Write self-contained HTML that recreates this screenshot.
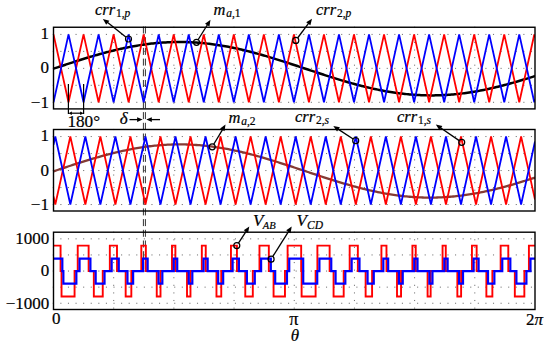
<!DOCTYPE html>
<html><head><meta charset="utf-8"><style>
html,body{margin:0;padding:0;background:#fff;}
body{width:550px;height:348px;overflow:hidden;font-family:"Liberation Serif",serif;}
svg{display:block;}
text{stroke:#000;stroke-width:0.2px;}
</style></head><body>
<svg width="550" height="348" viewBox="0 0 550 348">
<rect width="550" height="348" fill="#fff"/>
<g stroke="#707070" stroke-width="1" stroke-dasharray="1.1 6.49" fill="none"><line x1="52.75" y1="34.4" x2="535" y2="34.4"/><line x1="52.75" y1="51.37" x2="535" y2="51.37"/><line x1="52.75" y1="68.35" x2="535" y2="68.35"/><line x1="52.75" y1="85.32" x2="535" y2="85.32"/><line x1="52.75" y1="102.3" x2="535" y2="102.3"/><line x1="113.69" y1="26.7" x2="113.69" y2="108.9"/><line x1="173.88" y1="26.7" x2="173.88" y2="108.9"/><line x1="234.06" y1="26.7" x2="234.06" y2="108.9"/><line x1="294.25" y1="26.7" x2="294.25" y2="108.9"/><line x1="354.44" y1="26.7" x2="354.44" y2="108.9"/><line x1="414.62" y1="26.7" x2="414.62" y2="108.9"/><line x1="474.81" y1="26.7" x2="474.81" y2="108.9"/></g>
<g stroke="#707070" stroke-width="1" stroke-dasharray="1.1 6.49" fill="none"><line x1="52.75" y1="136.55" x2="535" y2="136.55"/><line x1="52.75" y1="153.55" x2="535" y2="153.55"/><line x1="52.75" y1="170.55" x2="535" y2="170.55"/><line x1="52.75" y1="187.55" x2="535" y2="187.55"/><line x1="52.75" y1="204.55" x2="535" y2="204.55"/><line x1="113.69" y1="128.95" x2="113.69" y2="211"/><line x1="173.88" y1="128.95" x2="173.88" y2="211"/><line x1="234.06" y1="128.95" x2="234.06" y2="211"/><line x1="294.25" y1="128.95" x2="294.25" y2="211"/><line x1="354.44" y1="128.95" x2="354.44" y2="211"/><line x1="414.62" y1="128.95" x2="414.62" y2="211"/><line x1="474.81" y1="128.95" x2="474.81" y2="211"/></g>
<g stroke="#707070" stroke-width="1" stroke-dasharray="1.1 6.49" fill="none"><line x1="52.75" y1="238.85" x2="535" y2="238.85"/><line x1="52.75" y1="254.95" x2="535" y2="254.95"/><line x1="52.75" y1="271.05" x2="535" y2="271.05"/><line x1="52.75" y1="287.15" x2="535" y2="287.15"/><line x1="52.75" y1="303.25" x2="535" y2="303.25"/><line x1="113.69" y1="231.65" x2="113.69" y2="309.5"/><line x1="173.88" y1="231.65" x2="173.88" y2="309.5"/><line x1="234.06" y1="231.65" x2="234.06" y2="309.5"/><line x1="294.25" y1="231.65" x2="294.25" y2="309.5"/><line x1="354.44" y1="231.65" x2="354.44" y2="309.5"/><line x1="414.62" y1="231.65" x2="414.62" y2="309.5"/><line x1="474.81" y1="231.65" x2="474.81" y2="309.5"/></g>
<g stroke="#333" stroke-width="1" stroke-dasharray="7 3.7"><line x1="143.4" y1="26.5" x2="143.4" y2="271"/><line x1="145.4" y1="26.5" x2="145.4" y2="271"/></g>
<defs><clipPath id="c0"><rect x="53.5" y="27.25" width="481.5" height="81.65"/></clipPath><clipPath id="c1"><rect x="53.5" y="129.5" width="481.5" height="81.5"/></clipPath><clipPath id="c2"><rect x="53.5" y="232.2" width="481.5" height="77.3"/></clipPath></defs>
<g clip-path="url(#c0)">
<polyline fill="none" stroke="#000" stroke-width="2.5" points="53.5,68.67 55.1,68.13 56.71,67.6 58.31,67.07 59.92,66.53 61.52,66 63.13,65.47 64.73,64.94 66.34,64.41 67.94,63.89 69.55,63.36 71.16,62.84 72.76,62.32 74.36,61.8 75.97,61.29 77.58,60.77 79.18,60.27 80.78,59.76 82.39,59.26 84,58.76 85.6,58.27 87.2,57.78 88.81,57.29 90.41,56.81 92.02,56.34 93.62,55.86 95.23,55.4 96.84,54.94 98.44,54.48 100.05,54.03 101.65,53.59 103.25,53.15 104.86,52.72 106.47,52.3 108.07,51.88 109.67,51.47 111.28,51.06 112.88,50.67 114.49,50.28 116.09,49.89 117.7,49.52 119.31,49.15 120.91,48.79 122.52,48.44 124.12,48.09 125.72,47.76 127.33,47.43 128.94,47.11 130.54,46.8 132.14,46.5 133.75,46.21 135.36,45.92 136.96,45.65 138.56,45.39 140.17,45.13 141.78,44.88 143.38,44.65 144.99,44.42 146.59,44.2 148.19,44 149.8,43.8 151.41,43.61 153.01,43.43 154.62,43.26 156.22,43.11 157.82,42.96 159.43,42.82 161.03,42.7 162.64,42.58 164.25,42.48 165.85,42.38 167.45,42.3 169.06,42.22 170.67,42.16 172.27,42.11 173.88,42.06 175.48,42.03 177.08,42.01 178.69,42 180.3,42 181.9,42.01 183.5,42.03 185.11,42.07 186.72,42.11 188.32,42.16 189.93,42.23 191.53,42.3 193.13,42.39 194.74,42.49 196.34,42.59 197.95,42.71 199.56,42.84 201.16,42.98 202.76,43.12 204.37,43.28 205.97,43.45 207.58,43.63 209.19,43.82 210.79,44.02 212.4,44.23 214,44.45 215.6,44.67 217.21,44.91 218.81,45.16 220.42,45.42 222.03,45.68 223.63,45.96 225.24,46.24 226.84,46.53 228.44,46.84 230.05,47.15 231.66,47.47 233.26,47.8 234.87,48.13 236.47,48.48 238.07,48.83 239.68,49.19 241.28,49.56 242.89,49.94 244.5,50.32 246.1,50.71 247.71,51.11 249.31,51.51 250.91,51.93 252.52,52.35 254.12,52.77 255.73,53.2 257.34,53.64 258.94,54.09 260.54,54.54 262.15,54.99 263.75,55.45 265.36,55.92 266.97,56.39 268.57,56.87 270.18,57.35 271.78,57.83 273.38,58.32 274.99,58.82 276.6,59.32 278.2,59.82 279.81,60.32 281.41,60.83 283.01,61.35 284.62,61.86 286.23,62.38 287.83,62.9 289.44,63.42 291.04,63.95 292.64,64.47 294.25,65 295.86,65.53 297.46,66.06 299.06,66.59 300.67,67.13 302.27,67.66 303.88,68.19 305.49,68.73 307.09,69.26 308.69,69.8 310.3,70.33 311.9,70.86 313.51,71.39 315.12,71.93 316.72,72.46 318.32,72.98 319.93,73.51 321.54,74.03 323.14,74.56 324.75,75.08 326.35,75.59 327.95,76.11 329.56,76.62 331.17,77.13 332.77,77.63 334.38,78.14 335.98,78.63 337.58,79.13 339.19,79.62 340.8,80.1 342.4,80.58 344,81.06 345.61,81.53 347.21,82 348.82,82.46 350.43,82.91 352.03,83.36 353.63,83.81 355.24,84.24 356.85,84.67 358.45,85.1 360.06,85.52 361.66,85.93 363.26,86.33 364.87,86.73 366.48,87.12 368.08,87.5 369.69,87.88 371.29,88.25 372.89,88.61 374.5,88.96 376.11,89.3 377.71,89.64 379.31,89.97 380.92,90.29 382.52,90.6 384.13,90.9 385.74,91.19 387.34,91.47 388.94,91.75 390.55,92.01 392.15,92.27 393.76,92.51 395.37,92.75 396.97,92.98 398.57,93.2 400.18,93.4 401.79,93.6 403.39,93.79 405,93.97 406.6,94.13 408.2,94.29 409.81,94.44 411.42,94.58 413.02,94.7 414.62,94.82 416.23,94.92 417.83,95.02 419.44,95.1 421.05,95.18 422.65,95.24 424.25,95.29 425.86,95.34 427.46,95.37 429.07,95.39 430.68,95.4 432.28,95.4 433.88,95.39 435.49,95.37 437.1,95.33 438.7,95.29 440.31,95.24 441.91,95.17 443.51,95.1 445.12,95.01 446.73,94.91 448.33,94.81 449.94,94.69 451.54,94.56 453.14,94.42 454.75,94.28 456.36,94.12 457.96,93.95 459.56,93.77 461.17,93.58 462.77,93.38 464.38,93.17 465.99,92.96 467.59,92.73 469.19,92.49 470.8,92.24 472.4,91.99 474.01,91.72 475.62,91.45 477.22,91.16 478.82,90.87 480.43,90.57 482.04,90.25 483.64,89.94 485.25,89.61 486.85,89.27 488.45,88.93 490.06,88.57 491.67,88.21 493.27,87.84 494.88,87.47 496.48,87.08 498.08,86.69 499.69,86.29 501.3,85.89 502.9,85.48 504.5,85.06 506.11,84.63 507.71,84.2 509.32,83.76 510.93,83.32 512.53,82.87 514.13,82.41 515.74,81.95 517.35,81.49 518.95,81.01 520.56,80.54 522.16,80.06 523.76,79.57 525.37,79.08 526.98,78.59 528.58,78.09 530.18,77.59 531.79,77.08 533.39,76.57 535,76.06"/>
<polyline fill="none" stroke="#f00" stroke-width="1.8" points="53.5,34.4 68.53,102.3 83.55,34.4 98.58,102.3 113.6,34.4 128.62,102.3 143.65,34.4 158.68,102.3 173.7,34.4 188.72,102.3 203.75,34.4 218.78,102.3 233.8,34.4 248.83,102.3 263.85,34.4 278.88,102.3 293.9,34.4 308.93,102.3 323.95,34.4 338.98,102.3 354,34.4 369.03,102.3 384.05,34.4 399.07,102.3 414.1,34.4 429.12,102.3 444.15,34.4 459.18,102.3 474.2,34.4 489.23,102.3 504.25,34.4 519.28,102.3 534.3,34.4 535,37.56"/>
<polyline fill="none" stroke="#00f" stroke-width="1.8" points="53.5,102.3 68.53,34.4 83.55,102.3 98.58,34.4 113.6,102.3 128.62,34.4 143.65,102.3 158.68,34.4 173.7,102.3 188.72,34.4 203.75,102.3 218.78,34.4 233.8,102.3 248.83,34.4 263.85,102.3 278.88,34.4 293.9,102.3 308.93,34.4 323.95,102.3 338.98,34.4 354,102.3 369.03,34.4 384.05,102.3 399.07,34.4 414.1,102.3 429.12,34.4 444.15,102.3 459.18,34.4 474.2,102.3 489.23,34.4 504.25,102.3 519.28,34.4 534.3,102.3 535,99.14"/>
</g>
<g clip-path="url(#c1)">
<polyline fill="none" stroke="#853b34" stroke-width="2.3" points="53.5,171.33 55.1,170.8 56.71,170.26 58.31,169.73 59.92,169.19 61.52,168.66 63.13,168.12 64.73,167.59 66.34,167.06 67.94,166.53 69.55,166.01 71.16,165.48 72.76,164.96 74.36,164.44 75.97,163.92 77.58,163.4 79.18,162.89 80.78,162.38 82.39,161.88 84,161.38 85.6,160.88 87.2,160.39 88.81,159.9 90.41,159.41 92.02,158.93 93.62,158.46 95.23,157.99 96.84,157.52 98.44,157.06 100.05,156.61 101.65,156.16 103.25,155.72 104.86,155.29 106.47,154.86 108.07,154.44 109.67,154.02 111.28,153.61 112.88,153.21 114.49,152.81 116.09,152.43 117.7,152.05 119.31,151.67 120.91,151.31 122.52,150.95 124.12,150.61 125.72,150.27 127.33,149.94 128.94,149.61 130.54,149.3 132.14,148.99 133.75,148.7 135.36,148.41 136.96,148.13 138.56,147.86 140.17,147.6 141.78,147.35 143.38,147.11 144.99,146.88 146.59,146.66 148.19,146.45 149.8,146.25 151.41,146.06 153.01,145.88 154.62,145.7 156.22,145.54 157.82,145.39 159.43,145.25 161.03,145.12 162.64,145.01 164.25,144.9 165.85,144.8 167.45,144.71 169.06,144.64 170.67,144.57 172.27,144.51 173.88,144.47 175.48,144.44 177.08,144.41 178.69,144.4 180.3,144.4 181.9,144.41 183.5,144.43 185.11,144.46 186.72,144.5 188.32,144.56 189.93,144.62 191.53,144.69 193.13,144.78 194.74,144.87 196.34,144.98 197.95,145.1 199.56,145.22 201.16,145.36 202.76,145.51 204.37,145.67 205.97,145.84 207.58,146.01 209.19,146.2 210.79,146.4 212.4,146.61 214,146.83 215.6,147.06 217.21,147.3 218.81,147.54 220.42,147.8 222.03,148.07 223.63,148.34 225.24,148.63 226.84,148.92 228.44,149.23 230.05,149.54 231.66,149.86 233.26,150.19 234.87,150.53 236.47,150.87 238.07,151.23 239.68,151.59 241.28,151.96 242.89,152.34 244.5,152.73 246.1,153.12 247.71,153.52 249.31,153.93 250.91,154.34 252.52,154.76 254.12,155.19 255.73,155.62 257.34,156.06 258.94,156.51 260.54,156.96 262.15,157.42 263.75,157.88 265.36,158.35 266.97,158.83 268.57,159.3 270.18,159.79 271.78,160.28 273.38,160.77 274.99,161.26 276.6,161.76 278.2,162.27 279.81,162.78 281.41,163.29 283.01,163.8 284.62,164.32 286.23,164.84 287.83,165.36 289.44,165.89 291.04,166.41 292.64,166.94 294.25,167.47 295.86,168 297.46,168.54 299.06,169.07 300.67,169.61 302.27,170.14 303.88,170.68 305.49,171.21 307.09,171.75 308.69,172.28 310.3,172.82 311.9,173.35 313.51,173.89 315.12,174.42 316.72,174.95 318.32,175.48 319.93,176 321.54,176.53 323.14,177.05 324.75,177.57 326.35,178.09 327.95,178.6 329.56,179.12 331.17,179.63 332.77,180.13 334.38,180.63 335.98,181.13 337.58,181.62 339.19,182.11 340.8,182.6 342.4,183.08 344,183.55 345.61,184.02 347.21,184.48 348.82,184.94 350.43,185.4 352.03,185.84 353.63,186.29 355.24,186.72 356.85,187.15 358.45,187.57 360.06,187.99 361.66,188.4 363.26,188.8 364.87,189.19 366.48,189.58 368.08,189.96 369.69,190.33 371.29,190.7 372.89,191.05 374.5,191.4 376.11,191.74 377.71,192.07 379.31,192.39 380.92,192.71 382.52,193.01 384.13,193.31 385.74,193.6 387.34,193.87 388.94,194.14 390.55,194.4 392.15,194.65 393.76,194.89 395.37,195.12 396.97,195.34 398.57,195.56 400.18,195.76 401.79,195.95 403.39,196.13 405,196.3 406.6,196.46 408.2,196.61 409.81,196.75 411.42,196.88 413.02,197 414.62,197.1 416.23,197.2 417.83,197.29 419.44,197.37 421.05,197.43 422.65,197.49 424.25,197.53 425.86,197.56 427.46,197.59 429.07,197.6 430.68,197.6 432.28,197.59 433.88,197.57 435.49,197.54 437.1,197.5 438.7,197.44 440.31,197.38 441.91,197.3 443.51,197.22 445.12,197.12 446.73,197.02 448.33,196.9 449.94,196.77 451.54,196.64 453.14,196.49 454.75,196.33 456.36,196.16 457.96,195.98 459.56,195.79 461.17,195.59 462.77,195.39 464.38,195.17 465.99,194.94 467.59,194.7 469.19,194.45 470.8,194.19 472.4,193.93 474.01,193.65 475.62,193.36 477.22,193.07 478.82,192.77 480.43,192.45 482.04,192.13 483.64,191.8 485.25,191.47 486.85,191.12 488.45,190.76 490.06,190.4 491.67,190.03 493.27,189.65 494.88,189.27 496.48,188.87 498.08,188.47 499.69,188.07 501.3,187.65 502.9,187.23 504.5,186.8 506.11,186.37 507.71,185.93 509.32,185.48 510.93,185.03 512.53,184.57 514.13,184.11 515.74,183.64 517.35,183.17 518.95,182.69 520.56,182.2 522.16,181.72 523.76,181.22 525.37,180.73 526.98,180.23 528.58,179.72 530.18,179.21 531.79,178.7 533.39,178.19 535,177.67"/>
<polyline fill="none" stroke="#f00" stroke-width="1.8" points="53.5,196.4 55.3,204.55 70.33,136.55 85.35,204.55 100.38,136.55 115.4,204.55 130.43,136.55 145.45,204.55 160.47,136.55 175.5,204.55 190.52,136.55 205.55,204.55 220.57,136.55 235.6,204.55 250.62,136.55 265.65,204.55 280.68,136.55 295.7,204.55 310.73,136.55 325.75,204.55 340.78,136.55 355.8,204.55 370.83,136.55 385.85,204.55 400.88,136.55 415.9,204.55 430.93,136.55 445.95,204.55 460.98,136.55 476,204.55 491.03,136.55 506.05,204.55 521.08,136.55 535,199.57"/>
<polyline fill="none" stroke="#00f" stroke-width="1.8" points="53.5,144.7 55.3,136.55 70.33,204.55 85.35,136.55 100.38,204.55 115.4,136.55 130.43,204.55 145.45,136.55 160.47,204.55 175.5,136.55 190.52,204.55 205.55,136.55 220.57,204.55 235.6,136.55 250.62,204.55 265.65,136.55 280.68,204.55 295.7,136.55 310.73,204.55 325.75,136.55 340.78,204.55 355.8,136.55 370.83,204.55 385.85,136.55 400.88,204.55 415.9,136.55 430.93,204.55 445.95,136.55 460.98,204.55 476,136.55 491.03,204.55 506.05,136.55 521.08,204.55 535,141.53"/>
</g>
<g clip-path="url(#c2)">
<polyline fill="none" stroke="#f00" stroke-width="1.9" points="53.5,245.65 60.57,245.65 60.57,271.05 61.53,271.05 61.53,296.45 74.57,296.45 74.57,271.05 77.73,271.05 77.73,245.65 88.63,245.65 88.63,271.05 93.83,271.05 93.83,296.45 102.75,296.45 102.75,271.05 109.83,271.05 109.83,245.65 116.99,245.65 116.99,271.05 125.67,271.05 125.67,296.45 131.33,296.45 131.33,271.05 141.31,271.05 141.31,245.65 145.85,245.65 145.85,271.05 156.75,271.05 156.75,296.45 160.51,296.45 160.51,271.05 171.99,271.05 171.99,245.65 175.39,245.65 175.39,271.05 187.01,271.05 187.01,296.45 190.47,296.45 190.47,271.05 201.83,271.05 201.83,245.65 205.75,245.65 205.75,271.05 216.47,271.05 216.47,296.45 221.25,296.45 221.25,271.05 230.95,271.05 230.95,245.65 236.93,245.65 236.93,271.05 245.27,271.05 245.27,296.45 252.81,296.45 252.81,271.05 259.47,271.05 259.47,245.65 268.83,245.65 268.83,271.05 273.57,271.05 273.57,296.45 284.97,296.45 284.97,271.05 287.61,271.05 287.61,245.65 301.17,245.65 301.17,271.05 301.61,271.05 301.61,296.45 315.61,296.45 315.61,271.05 317.39,271.05 317.39,245.65 329.63,245.65 329.63,271.05 333.57,271.05 333.57,296.45 343.69,296.45 343.69,271.05 349.67,271.05 349.67,245.65 357.85,245.65 357.85,271.05 365.63,271.05 365.63,296.45 372.09,296.45 372.09,271.05 381.41,271.05 381.41,245.65 386.47,245.65 386.47,271.05 397.01,271.05 397.01,296.45 401.03,296.45 401.03,271.05 412.41,271.05 412.41,245.65 415.73,245.65 415.73,271.05 427.59,271.05 427.59,296.45 430.65,296.45 430.65,271.05 442.57,271.05 442.57,245.65 445.77,245.65 445.77,271.05 457.35,271.05 457.35,296.45 461.11,296.45 461.11,271.05 471.93,271.05 471.93,245.65 476.65,245.65 476.65,271.05 486.37,271.05 486.37,296.45 492.37,296.45 492.37,271.05 500.65,271.05 500.65,245.65 508.29,245.65 508.29,271.05 514.83,271.05 514.83,296.45 524.35,296.45 524.35,271.05 528.91,271.05 528.91,245.65 535,245.65"/>
<polyline fill="none" stroke="#00f" stroke-width="2.2" points="53.5,258.55 62.33,258.55 62.33,271.05 63.37,271.05 63.37,283.55 76.35,283.55 76.35,271.05 79.55,271.05 79.55,258.55 90.41,258.55 90.41,271.05 95.67,271.05 95.67,283.55 104.53,283.55 104.53,271.05 111.65,271.05 111.65,258.55 118.77,258.55 118.77,271.05 127.47,271.05 127.47,283.55 133.13,283.55 133.13,271.05 143.11,271.05 143.11,258.55 147.65,258.55 147.65,271.05 158.53,271.05 158.53,283.55 162.35,283.55 162.35,271.05 173.75,271.05 173.75,258.55 177.23,258.55 177.23,271.05 188.75,271.05 188.75,283.55 192.33,283.55 192.33,271.05 203.55,271.05 203.55,258.55 207.65,258.55 207.65,271.05 218.17,271.05 218.17,283.55 223.17,283.55 223.17,271.05 232.61,271.05 232.61,258.55 238.89,258.55 238.89,271.05 246.91,271.05 246.91,283.55 254.79,283.55 254.79,271.05 261.11,271.05 261.11,258.55 270.83,258.55 270.83,271.05 275.19,271.05 275.19,283.55 286.97,283.55 286.97,271.05 289.23,271.05 289.23,258.55 303.19,258.55 303.19,271.05 303.23,271.05 303.23,283.55 317.23,283.55 317.23,271.05 319.41,271.05 319.41,258.55 331.25,258.55 331.25,271.05 335.57,271.05 335.57,283.55 345.33,283.55 345.33,271.05 351.65,271.05 351.65,258.55 359.49,258.55 359.49,271.05 367.57,271.05 367.57,283.55 373.77,283.55 373.77,271.05 383.33,271.05 383.33,258.55 388.17,258.55 388.17,271.05 398.89,271.05 398.89,283.55 402.75,283.55 402.75,271.05 414.25,271.05 414.25,258.55 417.51,258.55 417.51,271.05 429.39,271.05 429.39,283.55 432.47,283.55 432.47,271.05 444.33,271.05 444.33,258.55 447.63,258.55 447.63,271.05 459.05,271.05 459.05,283.55 463.01,283.55 463.01,271.05 473.61,271.05 473.61,258.55 478.59,258.55 478.59,271.05 488.01,271.05 488.01,283.55 494.37,283.55 494.37,271.05 502.27,271.05 502.27,258.55 510.33,258.55 510.33,271.05 516.41,271.05 516.41,283.55 526.41,283.55 526.41,271.05 530.49,271.05 530.49,258.55 535,258.55"/>
</g>
<rect x="53.5" y="27.25" width="481.5" height="81.65" fill="none" stroke="#000" stroke-width="1.4"/>
<rect x="53.5" y="129.5" width="481.5" height="81.5" fill="none" stroke="#000" stroke-width="1.4"/>
<rect x="53.5" y="232.2" width="481.5" height="77.3" fill="none" stroke="#000" stroke-width="1.4"/>
<circle cx="128.5" cy="39" r="3.0" fill="none" stroke="#000" stroke-width="1.2"/><line x1="126.14" y1="37.15" x2="106.99" y2="22.11" stroke="#000" stroke-width="1.3"/><polygon fill="#000" points="102.9,18.9 109.38,20.68 106.17,24.77"/>
<circle cx="196.5" cy="42.3" r="3.0" fill="none" stroke="#000" stroke-width="1.2"/><line x1="198.08" y1="39.75" x2="207.75" y2="24.22" stroke="#000" stroke-width="1.3"/><polygon fill="#000" points="210.5,19.8 209.43,26.44 205.02,23.69"/>
<circle cx="295.8" cy="40.4" r="3.0" fill="none" stroke="#000" stroke-width="1.2"/><line x1="297.6" y1="38" x2="308.88" y2="22.96" stroke="#000" stroke-width="1.3"/><polygon fill="#000" points="312,18.8 310.36,25.32 306.2,22.2"/>
<circle cx="212.2" cy="146.8" r="3.0" fill="none" stroke="#000" stroke-width="1.2"/><line x1="213.74" y1="144.23" x2="222.83" y2="129.06" stroke="#000" stroke-width="1.3"/><polygon fill="#000" points="225.5,124.6 224.54,131.25 220.08,128.58"/>
<circle cx="355.7" cy="140.7" r="3.0" fill="none" stroke="#000" stroke-width="1.2"/><line x1="353.19" y1="139.05" x2="337.65" y2="128.85" stroke="#000" stroke-width="1.3"/><polygon fill="#000" points="333.3,126 339.91,127.23 337.06,131.58"/>
<circle cx="461.7" cy="142.3" r="3.0" fill="none" stroke="#000" stroke-width="1.2"/><line x1="459.22" y1="140.61" x2="440.09" y2="127.53" stroke="#000" stroke-width="1.3"/><polygon fill="#000" points="435.8,124.6 442.39,125.95 439.45,130.24"/>
<circle cx="236.8" cy="245.6" r="3.0" fill="none" stroke="#000" stroke-width="1.2"/><line x1="238.44" y1="243.09" x2="246.45" y2="230.85" stroke="#000" stroke-width="1.3"/><polygon fill="#000" points="249.3,226.5 248.08,233.11 243.73,230.26"/>
<circle cx="271.1" cy="259.2" r="3.0" fill="none" stroke="#000" stroke-width="1.2"/><line x1="272.7" y1="256.66" x2="288.93" y2="230.9" stroke="#000" stroke-width="1.3"/><polygon fill="#000" points="291.7,226.5 290.6,233.13 286.2,230.36"/>
<g stroke="#000" stroke-width="1.2"><line x1="68.4" y1="84" x2="68.4" y2="114"/><line x1="83.6" y1="84" x2="83.6" y2="114"/></g>
<line x1="76" y1="113.2" x2="70.9" y2="113.2" stroke="#000" stroke-width="1.2"/><polygon fill="#000" points="68.4,113.2 71.9,111.4 71.9,115"/>
<line x1="76" y1="113.2" x2="81.1" y2="113.2" stroke="#000" stroke-width="1.2"/><polygon fill="#000" points="83.6,113.2 80.1,115 80.1,111.4"/>
<line x1="129.5" y1="119.6" x2="138.1" y2="119.6" stroke="#000" stroke-width="1.3"/><polygon fill="#000" points="142.6,119.6 137.1,121.9 137.1,117.3"/>
<line x1="160" y1="119.6" x2="150.8" y2="119.6" stroke="#000" stroke-width="1.3"/><polygon fill="#000" points="146.3,119.6 151.8,117.3 151.8,121.9"/>
<text x="95" y="14.8" style="font-family:'Liberation Serif',serif;font-size:16.5px;font-style:italic">crr<tspan dx="0.8" dy="2.0" style="font-size:11.5px"><tspan style="font-style:normal">1,</tspan>p</tspan></text>
<text x="213.5" y="15" style="font-family:'Liberation Serif',serif;font-size:16.5px;font-style:italic">m<tspan dx="0.8" dy="2.0" style="font-size:11.5px">a<tspan style="font-style:normal">,1</tspan></tspan></text>
<text x="316" y="15.3" style="font-family:'Liberation Serif',serif;font-size:16.5px;font-style:italic">crr<tspan dx="0.8" dy="2.0" style="font-size:11.5px"><tspan style="font-style:normal">2,</tspan>p</tspan></text>
<text x="228.5" y="123" style="font-family:'Liberation Serif',serif;font-size:16.5px;font-style:italic">m<tspan dx="0.8" dy="2.0" style="font-size:11.5px">a<tspan style="font-style:normal">,2</tspan></tspan></text>
<text x="295" y="122.2" style="font-family:'Liberation Serif',serif;font-size:16.5px;font-style:italic">crr<tspan dx="0.8" dy="2.0" style="font-size:11.5px"><tspan style="font-style:normal">2,</tspan>s</tspan></text>
<text x="397" y="122.2" style="font-family:'Liberation Serif',serif;font-size:16.5px;font-style:italic">crr<tspan dx="0.8" dy="2.0" style="font-size:11.5px"><tspan style="font-style:normal">1,</tspan>s</tspan></text>
<text x="253" y="225.6" style="font-family:'Liberation Serif',serif;font-size:17px;font-style:italic">V<tspan dx="-0.6" dy="3.3" style="font-size:10.5px">AB</tspan></text>
<text x="296.5" y="225.6" style="font-family:'Liberation Serif',serif;font-size:17px;font-style:italic">V<tspan dx="0.2" dy="3.3" style="font-size:11.5px">CD</tspan></text>
<text x="67.4" y="127.3" style="font-family:'Liberation Serif',serif;font-size:17.2px" text-anchor="start">180°</text>
<text x="119.8" y="124.3" style="font-family:'Liberation Serif',serif;font-size:17px;font-style:italic" text-anchor="start">δ</text>
<text x="48.9" y="39" style="font-family:'Liberation Serif',serif;font-size:17px" text-anchor="end">1</text>
<text x="48.9" y="73.35" style="font-family:'Liberation Serif',serif;font-size:17px" text-anchor="end">0</text>
<text x="48.9" y="107.9" style="font-family:'Liberation Serif',serif;font-size:17px" text-anchor="end">−1</text>
<text x="48.9" y="141.2" style="font-family:'Liberation Serif',serif;font-size:17px" text-anchor="end">1</text>
<text x="48.9" y="175.55" style="font-family:'Liberation Serif',serif;font-size:17px" text-anchor="end">0</text>
<text x="48.9" y="210.1" style="font-family:'Liberation Serif',serif;font-size:17px" text-anchor="end">−1</text>
<text x="49.3" y="243.85" style="font-family:'Liberation Serif',serif;font-size:17px" text-anchor="end">1000</text>
<text x="49.3" y="276.35" style="font-family:'Liberation Serif',serif;font-size:17px" text-anchor="end">0</text>
<text x="49.3" y="308.85" style="font-family:'Liberation Serif',serif;font-size:17px" text-anchor="end">−1000</text>
<text x="56.2" y="324.2" style="font-family:'Liberation Serif',serif;font-size:17px" text-anchor="middle">0</text>
<text x="293.8" y="325" style="font-family:'Liberation Serif',serif;font-size:18.2px" text-anchor="middle" stroke-width="0.45">π</text>
<text x="534.6" y="324.6" style="font-family:'Liberation Serif',serif;font-size:17px" text-anchor="middle">2<tspan style="font-style:italic">π</tspan></text>
<text x="295" y="341" style="font-family:'Liberation Serif',serif;font-size:17px;font-style:italic" text-anchor="middle">θ</text>
</svg>
</body></html>
